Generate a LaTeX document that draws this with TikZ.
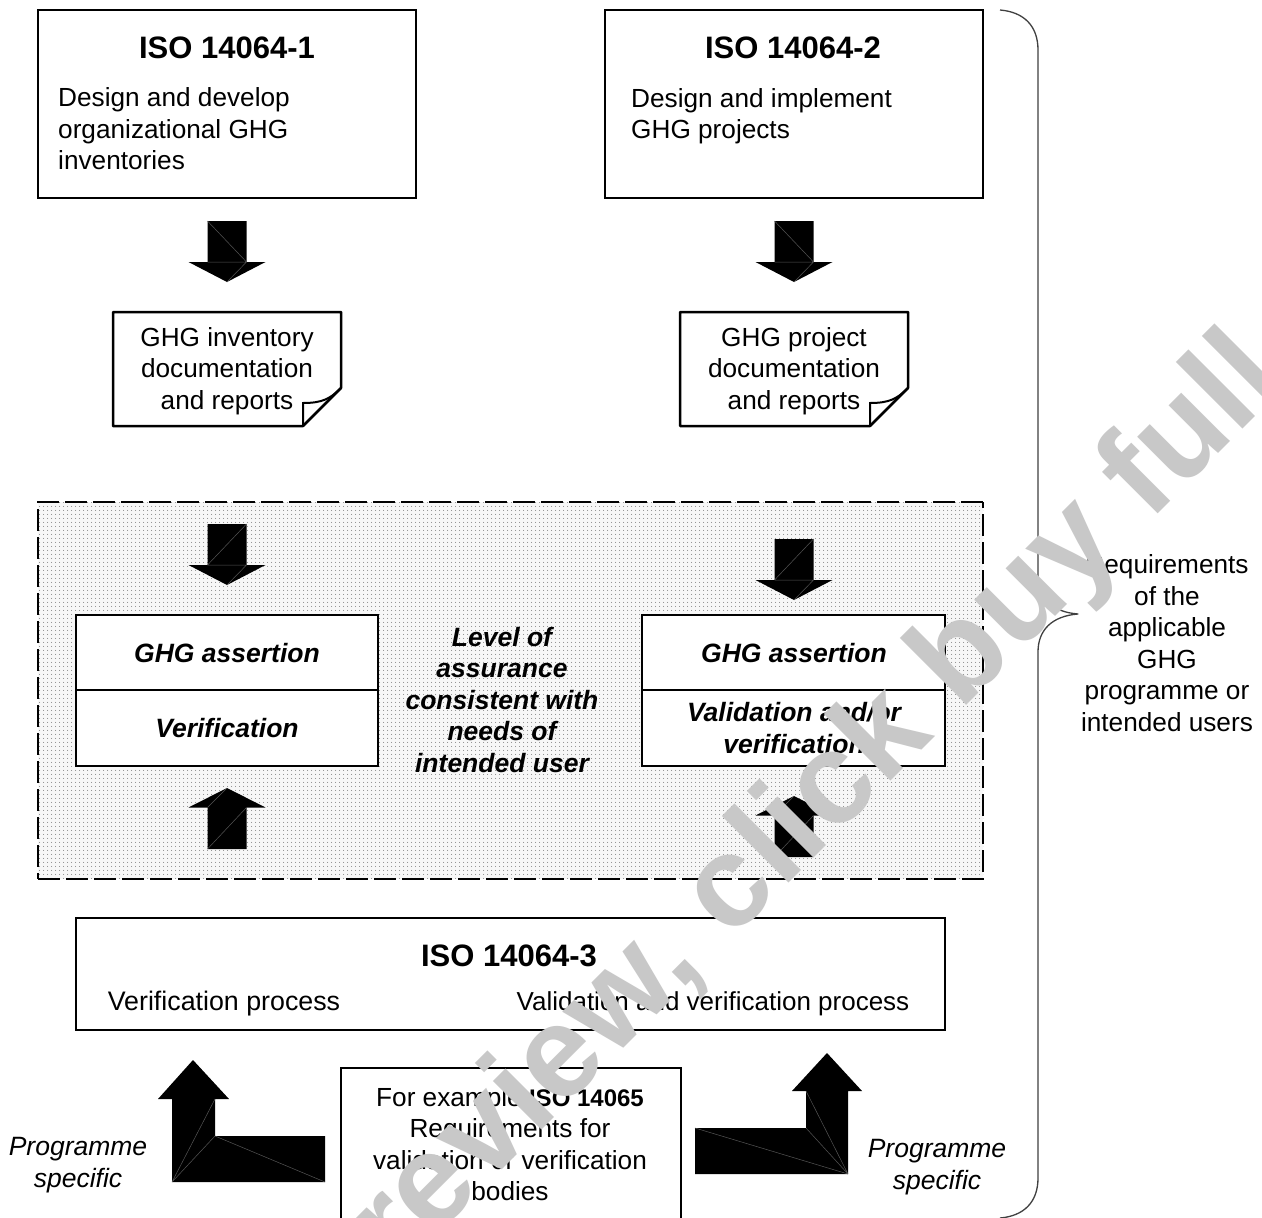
\documentclass[tikz,border=0pt]{standalone}
\usepackage{fontspec}
\setmainfont{Liberation Sans}
\usetikzlibrary{patterns.meta}
\definecolor{wm}{HTML}{C8C8C8}
\definecolor{seam}{HTML}{555555}
\tikzset{
 box/.style={draw=black,line width=2.5pt,fill=white},
 dashline/.style={line width=2.5pt,dash pattern=on 22pt off 6pt},
 body/.style={font=\fontsize{26.2}{31.5}\selectfont,inner sep=0pt,align=center},
 bodyl/.style={font=\fontsize{26.2}{31.5}\selectfont,inner sep=0pt,align=left,anchor=west},
 title/.style={font=\fontsize{31}{36}\selectfont\bfseries,inner sep=0pt},
 bi/.style={font=\fontsize{26.5}{31.5}\selectfont\bfseries\itshape,inner sep=0pt,align=center},
 it/.style={font=\fontsize{26.5}{31.5}\selectfont\itshape,inner sep=0pt,align=center},
 blk/.style={fill=black,draw=none},
 sm/.style={draw=seam,line width=.5pt},
}
% #1 shaft centre x, #2 top y, #3 = 1: diagonal falls to the right, -1: rises to the right
\newcommand{\downarr}[3]{%
 \fill[blk] (#1-19.5,#2) -- (#1+19.5,#2) -- (#1+19.5,#2+41) -- (#1+38.5,#2+41) -- (#1,#2+61) -- (#1-38.5,#2+41) -- (#1-19.5,#2+41) -- cycle;
 \draw[sm] (#1-19.5*#3,#2) -- (#1+19.5*#3,#2+41) (#1+19.5,#2+41) -- (#1,#2+61) (#1-19.5,#2+41) -- (#1+19.5,#2+41);
}
\newcommand{\uparr}[2]{%
 \fill[blk] (#1,#2) -- (#1+38.5,#2+19.5) -- (#1+19.5,#2+19.5) -- (#1+19.5,#2+61) -- (#1-19.5,#2+61) -- (#1-19.5,#2+19.5) -- (#1-38.5,#2+19.5) -- cycle;
 \draw[sm] (#1-19.5,#2+61) -- (#1+19.5,#2+19.5) (#1-19.5,#2+19.5) -- (#1,#2);
}
\begin{document}
\begin{tikzpicture}[x=1pt,y=-1pt]
\useasboundingbox (0,0) rectangle (1262,1218);
\fill[white] (0,0) rectangle (1262,1218);
% top boxes
\draw[box] (38,10) rectangle (416,198);
\draw[box] (605,10) rectangle (983,198);
\node[title] (t1) at (227,48) {ISO 14064-1};
\node[title] (t2) at (793,48) {ISO 14064-2};
\node[bodyl] (b1) at (58,129) {Design and develop\\organizational GHG\\inventories};
\node[bodyl] (b2) at (631,116) {Design and implement\\GHG projects};
\downarr{227}{221}{1}
\downarr{794}{221}{1}
% documents
\foreach \dx in {0,567}{
 \draw[box,line join=round] (113+\dx,312) -- (341+\dx,312) -- (341+\dx,388) -- (303+\dx,426) -- (113+\dx,426) -- cycle;
 \draw[draw=black,line width=2pt] (303+\dx,426) -- (303+\dx,403) .. controls (322+\dx,403) and (330+\dx,399) .. (341+\dx,388);
}
\node[body] (d1) at (227,371) {GHG inventory\\documentation\\and reports};
\node[body] (d2) at (794,371) {GHG project\\documentation\\and reports};
% shaded region
\fill[black!3] (38,502) rectangle (983,879);
\fill[pattern={Dots[distance=4pt,radius=.6pt]},pattern color=black!55] (38,502) rectangle (983,879);
\draw[dashline] (983,502) -- (38,502) -- (38,879);
\draw[dashline] (38,879) -- (983,879) -- (983,502);
\downarr{227}{524}{-1}
\downarr{794}{539}{-1}
\uparr{227}{788}
\uparr{794}{796}
\draw[box] (76,615) rectangle (378,766);
\draw[line width=2.5pt] (76,690) -- (378,690);
\draw[box] (642,615) rectangle (945,766);
\draw[line width=2.5pt] (642,690) -- (945,690);
\node[bi] (a1) at (227,653) {GHG assertion};
\node[bi] (v1) at (227,728) {Verification};
\node[bi] (a2) at (794,653) {GHG assertion};
\node[bi] (v2) at (794,728) {Validation and/or\\verification};
\node[bi] (lv) at (502,700) {Level of\\assurance\\consistent with\\needs of\\intended user};
% ISO 3
\draw[box] (76,918) rectangle (945,1030);
\node[title] (t3) at (509,956) {ISO 14064-3};
\node[body,font=\fontsize{26.8}{31.5}\selectfont] (p1) at (224,1004) {Verification process};
\node[body,font=\fontsize{26}{31.5}\selectfont] (p2) at (713,1004) {Validation and verification process};
% example box
\draw[draw=black,line width=2.5pt] (341,1218) -- (341,1068) -- (681,1068) -- (681,1218);
\node[body] (ex) at (510,1144) {For example {\fontsize{24}{31.5}\selectfont\bfseries ISO 14065}\\Requirements for\\validation or verification\\bodies};
% bent arrows
\fill[blk] (193,1060) -- (229,1099) -- (215,1099) -- (215,1136) -- (325,1136) -- (325,1182) -- (172,1182) -- (172,1099) -- (158,1099) -- cycle;
\draw[sm] (172,1182) -- (215,1099) (172,1182) -- (215,1136) -- (325,1182);
\fill[blk] (827,1053) -- (862,1091) -- (848,1091) -- (848,1174) -- (695,1174) -- (695,1128) -- (806,1128) -- (806,1091) -- (792,1091) -- cycle;
\draw[sm] (848,1174) -- (806,1091) (848,1174) -- (806,1128) (848,1174) -- (695,1128);
\node[it] (s1) at (78,1165) {Programme\\specific};
\node[it] (s2) at (937,1167) {Programme\\specific};
% brace
\draw[line width=1.3pt,draw=black!75,line join=round] (1000,10) .. controls (1024,12) and (1038,26) .. (1038,50) -- (1038,577) .. controls (1038,598) and (1052,612) .. (1078,614) .. controls (1052,616) and (1038,630) .. (1038,652) -- (1038,1178) .. controls (1038,1202) and (1024,1216) .. (1000,1218);
\node[body] (rq) at (1167,643) {Requirements\\of the\\applicable\\GHG\\programme or\\intended users};
% watermark
\begin{scope}
\clip (0,0) rectangle (1262,1218);
\node[font=\fontsize{130}{130}\selectfont\bfseries,text=wm,rotate=45,inner sep=0pt,anchor=base east] (wm) at (1288,384) {preview, click buy full};
\end{scope}
\end{tikzpicture}
\end{document}
